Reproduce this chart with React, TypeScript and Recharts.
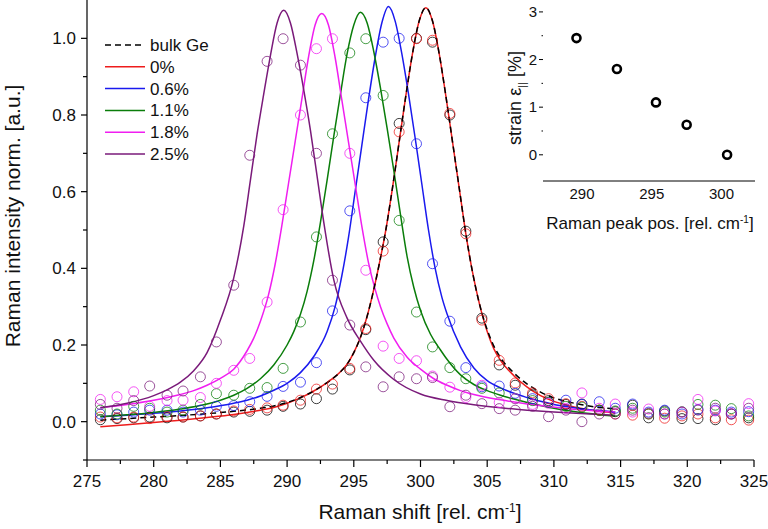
import { ComposedChart, ScatterChart, Line, Scatter, XAxis, YAxis } from 'recharts';

const FONT = '"Liberation Sans", Arial, sans-serif';

// measured points: shared Raman shift positions
const shiftX = [
  276.0, 277.25, 278.5, 279.7, 281.0, 282.2, 283.5, 284.7, 286.0, 287.2, 288.5, 289.7, 291.0, 292.2,
  293.4, 294.7, 295.9, 297.2, 298.4, 299.7, 300.9, 302.2, 303.4, 304.6, 305.9, 307.1, 308.4, 309.6,
  310.9, 312.1, 313.4, 314.6, 315.9, 317.1, 318.3, 319.6, 320.8, 322.1, 323.3, 324.6,
];

const bulkPts = [
  0.005, 0.008, 0.01, 0.012, 0.01, 0.012, 0.015, 0.02, 0.025, 0.027, 0.03, 0.04, 0.046, 0.06, 0.085,
  0.135, 0.24, 0.469, 0.778, 1.0, 0.99, 0.8, 0.497, 0.27, 0.148, 0.095, 0.07, 0.055, 0.045, 0.046,
  0.03, 0.026, 0.043, 0.01, 0.028, 0.008, 0.008, 0.005, 0.02, 0.01,
];
const redPts = [
  0.012, 0.01, 0.012, 0.008, 0.013, 0.012, 0.015, 0.02, 0.028, 0.032, 0.036, 0.043, 0.056, 0.085, 0.098,
  0.139, 0.243, 0.445, 0.756, 0.999, 0.995, 0.804, 0.49, 0.265, 0.16, 0.101, 0.075, 0.06, 0.047, 0.04,
  0.03, 0.02, 0.017, 0.02, 0.009, 0.015, 0.02, 0.01, 0.005, 0.004,
];
const bluePts = [
  0.02, 0.018, 0.025, 0.03, 0.03, 0.025, 0.03, 0.04, 0.042, 0.052, 0.066, 0.092, 0.103, 0.154, 0.289,
  0.55, 0.845, 0.99, 1.0, 0.725, 0.412, 0.262, 0.141, 0.091, 0.093, 0.074, 0.06, 0.05, 0.056, 0.045,
  0.052, 0.035, 0.046, 0.025, 0.03, 0.02, 0.032, 0.03, 0.025, 0.026,
];
const greenPts = [
  0.03, 0.02, 0.04, 0.035, 0.025, 0.03, 0.045, 0.073, 0.069, 0.087, 0.089, 0.139, 0.26, 0.482, 0.751,
  0.962, 0.999, 0.851, 0.525, 0.286, 0.195, 0.141, 0.112, 0.087, 0.075, 0.06, 0.055, 0.05, 0.04, 0.038,
  0.03, 0.028, 0.035, 0.02, 0.025, 0.026, 0.045, 0.043, 0.034, 0.015,
];
const magentaPts = [
  0.058, 0.065, 0.078, 0.04, 0.055, 0.056, 0.063, 0.1, 0.134, 0.165, 0.312, 0.553, 0.8, 0.973, 0.999,
  0.7, 0.395, 0.197, 0.165, 0.159, 0.119, 0.09, 0.063, 0.095, 0.05, 0.06, 0.045, 0.048, 0.035, 0.075,
  0.035, 0.046, 0.025, 0.033, 0.02, 0.025, 0.058, 0.028, 0.021, 0.047,
];
const purplePts = [
  0.045, 0.035, 0.055, 0.093, 0.069, 0.08, 0.117, 0.208, 0.356, 0.695, 0.94, 0.999, 0.93, 0.7, 0.369,
  0.252, 0.143, 0.091, 0.117, 0.112, 0.115, 0.039, 0.069, 0.047, 0.034, 0.03, 0.04, 0.013, 0.03, 0.0,
  0.02, 0.02, 0.03, 0.022, 0.02, 0.025, 0.03, 0.035, 0.02, 0.035,
];

// fitted curves as [shift, intensity]
const bulkFit: [number, number][] = [
  [276, 0.004], [278, 0.008], [280, 0.012], [282, 0.016], [284, 0.021], [286, 0.027], [288, 0.035],
  [289, 0.041], [290, 0.05], [291, 0.063], [292, 0.08], [293, 0.102], [294, 0.13], [294.5, 0.15],
  [295, 0.18], [295.5, 0.22], [296, 0.275], [296.4, 0.33], [296.9, 0.41], [297.4, 0.5], [297.9, 0.61],
  [298.4, 0.73], [298.9, 0.85], [299.4, 0.96], [299.9, 1.045], [300.4, 1.08], [300.9, 1.045],
  [301.4, 0.96], [301.9, 0.85], [302.4, 0.73], [302.9, 0.61], [303.4, 0.49], [303.9, 0.39],
  [304.4, 0.31], [305, 0.24], [305.5, 0.197], [306, 0.167], [307, 0.127], [308, 0.098], [309, 0.077],
  [310, 0.062], [311, 0.052], [312, 0.045], [313, 0.039], [314, 0.035], [314.6, 0.033],
];
const redFit: [number, number][] = [
  [276, -0.013], [278, -0.008], [280, -0.002], [282, 0.004], [284, 0.011], [286, 0.019], [288, 0.03],
  [289, 0.037], [290, 0.048], [291, 0.062], [292, 0.08], [293, 0.102], [294, 0.13], [294.5, 0.15],
  [295, 0.18], [295.5, 0.22], [296, 0.275], [296.4, 0.33], [296.9, 0.41], [297.4, 0.5], [297.9, 0.61],
  [298.4, 0.73], [298.9, 0.85], [299.4, 0.96], [299.9, 1.045], [300.4, 1.08], [300.9, 1.045],
  [301.4, 0.96], [301.9, 0.85], [302.4, 0.73], [302.9, 0.61], [303.4, 0.49], [303.9, 0.39],
  [304.4, 0.31], [305, 0.235], [305.5, 0.19], [306, 0.16], [307, 0.12], [308, 0.09], [309, 0.068],
  [310, 0.053], [311, 0.043], [312, 0.035], [313, 0.029], [314, 0.025], [314.6, 0.022],
];
const blueFit: [number, number][] = [
  [276, 0.013], [278, 0.017], [280, 0.022], [282, 0.028], [284, 0.036], [286, 0.048], [287, 0.056],
  [288, 0.067], [289, 0.082], [290, 0.1], [291, 0.128], [292, 0.17], [293, 0.235], [293.6, 0.3],
  [294.1, 0.38], [294.6, 0.48], [295.1, 0.6], [295.6, 0.72], [296.1, 0.84], [296.6, 0.95],
  [297.1, 1.04], [297.6, 1.083], [298.1, 1.045], [298.6, 0.96], [299.1, 0.855], [299.6, 0.74],
  [300.1, 0.62], [300.6, 0.5], [301.1, 0.4], [301.6, 0.325], [302, 0.28], [303, 0.195], [304, 0.14],
  [305, 0.107], [306, 0.088], [307, 0.074], [308, 0.063], [309, 0.053], [310, 0.045], [311, 0.039],
  [312, 0.034], [313, 0.03], [314, 0.027], [314.6, 0.025],
];
const greenFit: [number, number][] = [
  [276, 0.013], [278, 0.018], [280, 0.024], [282, 0.033], [284, 0.046], [285, 0.056], [286, 0.069],
  [287, 0.087], [288, 0.112], [289, 0.148], [290, 0.2], [290.5, 0.235], [291, 0.28], [291.5, 0.34],
  [292, 0.42], [292.5, 0.52], [293, 0.63], [293.5, 0.745], [294, 0.855], [294.5, 0.96], [295, 1.035],
  [295.5, 1.068], [296, 1.04], [296.5, 0.965], [297, 0.87], [297.5, 0.765], [298, 0.655], [298.5, 0.54],
  [299, 0.43], [299.5, 0.35], [300, 0.29], [300.75, 0.228], [301.5, 0.187], [302, 0.162], [303, 0.122],
  [304, 0.097], [305, 0.081], [306, 0.069], [307, 0.059], [308, 0.05], [309, 0.042], [310, 0.035],
  [311, 0.029], [312, 0.024], [313, 0.02], [314, 0.016], [314.6, 0.015],
];
const magentaFit: [number, number][] = [
  [276, 0.037], [278, 0.045], [280, 0.056], [282, 0.071], [283, 0.081], [284, 0.095], [285, 0.113],
  [286, 0.137], [287, 0.185], [287.5, 0.218], [288, 0.262], [288.6, 0.33], [289.1, 0.41], [289.6, 0.51],
  [290.1, 0.62], [290.6, 0.73], [291.1, 0.84], [291.6, 0.95], [292.1, 1.035], [292.6, 1.065],
  [293.1, 1.035], [293.6, 0.95], [294.1, 0.84], [294.6, 0.73], [295.1, 0.62], [295.6, 0.51],
  [296.1, 0.415], [296.6, 0.345], [297, 0.3], [297.5, 0.255], [298, 0.218], [299, 0.168], [300, 0.137],
  [301, 0.112], [302, 0.095], [303, 0.081], [304, 0.071], [306, 0.057], [308, 0.046], [310, 0.038],
  [312, 0.031], [314.6, 0.025],
];
const purpleFit: [number, number][] = [
  [276, 0.036], [278, 0.048], [280, 0.068], [281, 0.083], [282, 0.103], [283, 0.133], [284, 0.18],
  [285, 0.265], [286, 0.375], [286.75, 0.51], [287.25, 0.63], [287.75, 0.75], [288.25, 0.855],
  [288.75, 0.955], [289.25, 1.04], [289.75, 1.073], [290.25, 1.04], [290.75, 0.96], [291.25, 0.865],
  [291.75, 0.76], [292.25, 0.64], [292.75, 0.52], [293.5, 0.37], [294.5, 0.27], [295.5, 0.21],
  [296.5, 0.16], [298, 0.11], [300, 0.072], [302, 0.055], [304, 0.044], [306, 0.036], [308, 0.03],
  [310, 0.025], [312, 0.021], [314.6, 0.017],
];

// inset: strain vs Raman peak position
const peakPos = [289.6, 292.5, 295.3, 297.5, 300.4];
const strainPct = [2.45, 1.8, 1.1, 0.63, 0.0];

const xTicks = [275, 277.5, 280, 282.5, 285, 287.5, 290, 292.5, 295, 297.5, 300, 302.5, 305, 307.5, 310, 312.5, 315, 317.5, 320, 322.5, 325];
const yTicks = [-0.1, 0, 0.1, 0.2, 0.3, 0.4, 0.5, 0.6, 0.7, 0.8, 0.9, 1.0];
const insetXTicks = [290, 295, 300];
const insetYTicks = [0, 0.5, 1, 1.5, 2, 2.5, 3];

const series = [
  { name: 'bulk Ge', color: '#000000', pts: bulkPts, fit: bulkFit, dash: '6 4' },
  { name: '0%', color: '#ee1c1c', pts: redPts, fit: redFit },
  { name: '0.6%', color: '#1a1aee', pts: bluePts, fit: blueFit },
  { name: '1.1%', color: '#0a7d0a', pts: greenPts, fit: greenFit },
  { name: '1.8%', color: '#f01ef0', pts: magentaPts, fit: magentaFit },
  { name: '2.5%', color: '#7a1a7a', pts: purplePts, fit: purpleFit },
];

const toRows = (pairs: [number, number][]) => pairs.map(([x, y]) => ({ x, y }));
const ptRows = (ys: number[]) => shiftX.map((x, i) => ({ x, y: ys[i] }));

function XTick(props: any) {
  const { x, y, payload } = props;
  const major = payload.value % 5 === 0;
  return (
    <g>
      <line x1={x} x2={x} y1={y} y2={y + (major ? 7 : 4)} stroke="#000" strokeWidth={1.2} />
      {major && (
        <text x={x} y={y + 27} textAnchor="middle" fontSize={17} fontFamily={FONT} fill="#111">
          {payload.value}
        </text>
      )}
    </g>
  );
}

function YTick(props: any) {
  const { x, y, payload } = props;
  const v = payload.value;
  const major = Math.abs(v * 5 - Math.round(v * 5)) < 1e-6;
  return (
    <g>
      <line x1={x - (major ? 6 : 4)} x2={x} y1={y} y2={y} stroke="#000" strokeWidth={1.2} />
      {major && (
        <text x={x - 11} y={y + 6} textAnchor="end" fontSize={17} fontFamily={FONT} fill="#111">
          {v.toFixed(1)}
        </text>
      )}
    </g>
  );
}

function InsetXTick(props: any) {
  const { x, y, payload } = props;
  return (
    <text x={x} y={y + 18} textAnchor="middle" fontSize={15} fontFamily={FONT} fill="#111">
      {payload.value}
    </text>
  );
}

function InsetYTick(props: any) {
  const { x, y, payload } = props;
  const v = payload.value;
  const major = Number.isInteger(v);
  return (
    <g>
      <line x1={x - (major ? 4 : 1.5)} x2={x} y1={y} y2={y} stroke="#000" strokeWidth={1} />
      {major && (
        <text x={x - 6} y={y + 5} textAnchor="end" fontSize={15} fontFamily={FONT} fill="#111">
          {v}
        </text>
      )}
    </g>
  );
}

const ring = (color: string) => (p: any) => (
  <circle cx={p.cx} cy={p.cy} r={5} fill="none" stroke={color} strokeWidth={1} strokeOpacity={0.75} />
);

const boldRing = (p: any) => (
  <circle cx={p.cx} cy={p.cy} r={4} fill="none" stroke="#000" strokeWidth={2.6} />
);

export default function App() {
  const lines = [...series.slice(1), series[0]];
  return (
    <div style={{ position: 'absolute', left: 0, top: 0, width: 768, height: 529, background: '#fff', fontFamily: FONT }}>
      <ComposedChart width={768} height={529} margin={{ top: 0, right: 14, bottom: 0, left: 0 }}>
        <XAxis
          type="number"
          dataKey="x"
          domain={[275, 325]}
          ticks={xTicks}
          interval={0}
          tick={(p: any) => <XTick {...p} />}
          tickLine={false}
          tickSize={0}
          tickMargin={0}
          axisLine={{ stroke: '#000', strokeWidth: 1.2 }}
          height={69}
        />
        <YAxis
          type="number"
          dataKey="y"
          domain={[-0.1, 1.1]}
          ticks={yTicks}
          interval={0}
          tick={(p: any) => <YTick {...p} />}
          tickLine={false}
          tickSize={0}
          tickMargin={0}
          axisLine={{ stroke: '#000', strokeWidth: 1.2 }}
          width={87}
        />
        {series.map((s) => (
          <Scatter
            key={'p' + s.name}
            data={ptRows(s.pts)}
            dataKey="y"
            shape={ring(s.color)}
            isAnimationActive={false}
          />
        ))}
        {lines.map((s) => (
          <Line
            key={'f' + s.name}
            data={toRows(s.fit)}
            dataKey="y"
            type="monotone"
            stroke={s.color}
            strokeWidth={1.5}
            strokeDasharray={s.dash}
            dot={false}
            activeDot={false}
            isAnimationActive={false}
          />
        ))}
      </ComposedChart>

      {/* legend */}
      <svg style={{ position: 'absolute', left: 0, top: 0 }} width={260} height={170}>
        {series.map((s, i) => {
          const cy = 45 + i * 21.8;
          return (
            <g key={s.name}>
              <line x1={105} x2={145} y1={cy} y2={cy} stroke={s.color} strokeWidth={1.5} strokeDasharray={s.dash} />
              <text x={150} y={cy + 6} fontSize={17} fontFamily={FONT} fill="#111">
                {s.name}
              </text>
            </g>
          );
        })}
      </svg>

      {/* axis titles */}
      <div style={{ position: 'absolute', left: 220, top: 500, width: 400, textAlign: 'center', fontSize: 21, lineHeight: '24px', color: '#111' }}>
        Raman shift [rel. cm<sup style={{ fontSize: 12, verticalAlign: 7, lineHeight: 0 }}>-1</sup>]
      </div>
      <div
        style={{
          position: 'absolute',
          left: 13 - 200,
          top: 216 - 12,
          width: 400,
          textAlign: 'center',
          fontSize: 21,
          lineHeight: '24px',
          color: '#111',
          transform: 'rotate(-90deg)',
        }}
      >
        Raman intensity norm. [a.u.]
      </div>

      {/* inset */}
      <div style={{ position: 'absolute', left: 490, top: 0 }}>
        <ScatterChart width={278} height={240} margin={{ top: 0, right: 13, bottom: 0, left: 0 }}>
          <XAxis
            type="number"
            dataKey="x"
            domain={[287.2, 302.4]}
            ticks={insetXTicks}
            interval={0}
            tick={(p: any) => <InsetXTick {...p} />}
            tickLine={false}
            tickSize={0}
            tickMargin={0}
            axisLine={{ stroke: '#000', strokeWidth: 1 }}
            height={59}
          />
          <YAxis
            type="number"
            dataKey="y"
            domain={[-0.55, 3.25]}
            ticks={insetYTicks}
            interval={0}
            tick={(p: any) => <InsetYTick {...p} />}
            tickLine={false}
            tickSize={0}
            tickMargin={0}
            axisLine={false}
            width={53}
          />
          <Scatter
            data={peakPos.map((x, i) => ({ x, y: strainPct[i] }))}
            dataKey="y"
            shape={boldRing}
            isAnimationActive={false}
          />
        </ScatterChart>
      </div>
      <div
        style={{
          position: 'absolute',
          left: 515,
          top: 213,
          width: 270,
          textAlign: 'center',
          fontSize: 17,
          lineHeight: '22px',
          color: '#111',
          whiteSpace: 'nowrap',
        }}
      >
        Raman peak pos. [rel. cm<sup style={{ fontSize: 10, verticalAlign: 6, lineHeight: 0 }}>-1</sup>]
      </div>
      <div
        style={{
          position: 'absolute',
          left: 515 - 80,
          top: 98 - 11,
          width: 160,
          textAlign: 'center',
          fontSize: 18,
          lineHeight: '22px',
          color: '#111',
          transform: 'rotate(-90deg)',
          whiteSpace: 'nowrap',
        }}
      >
        strain ε<sub style={{ fontSize: 11, lineHeight: 0 }}>||</sub> [%]
      </div>
    </div>
  );
}
